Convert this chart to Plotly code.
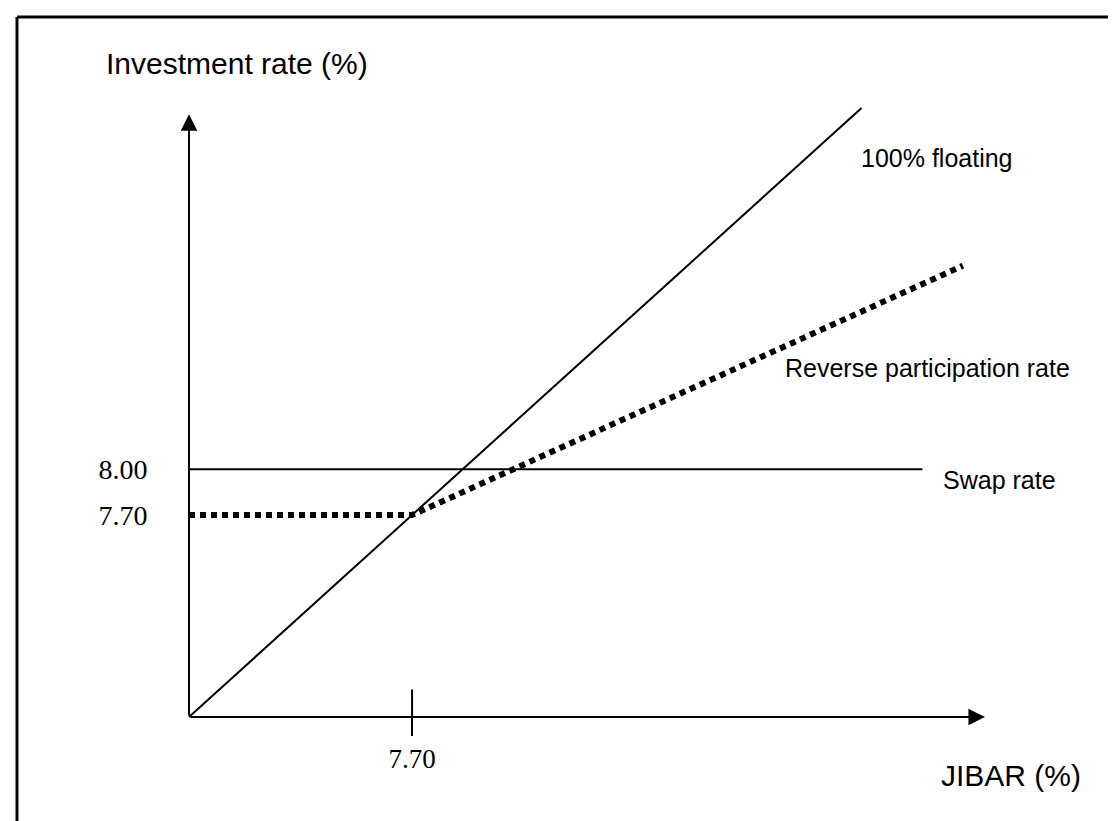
import plotly.graph_objects as go

# ---- data (conceptual payoff diagram) ----
origin = 6.38            # where the two axes meet
x_axis_end = 11.09       # JIBAR axis arrow tip
y_axis_end = 10.32       # Investment-rate axis arrow tip

floating_x = [6.38, 10.36]
floating_y = [6.38, 10.36]

swap_rate = 8.00
swap_x = [6.38, 10.72]
swap_y = [swap_rate, swap_rate]

floor_rate = 7.70
rp_x = [6.38, 7.70, 10.96]
rp_y = [7.70, 7.70, 9.33]

x_tick_vals = [7.70]
x_tick_text = ["7.70"]
y_tick_vals = [7.70, 8.00]
y_tick_text = ["7.70", "8.00"]

W, H = 1116, 821
BLACK = "#000000"
SANS = "Liberation Sans, Arial, Helvetica, sans-serif"
SERIF = "Liberation Serif, Times New Roman, serif"

fig = go.Figure()

fig.add_trace(go.Scatter(x=floating_x, y=floating_y, mode="lines",
                         line=dict(color=BLACK, width=2), hoverinfo="skip"))
fig.add_trace(go.Scatter(x=swap_x, y=swap_y, mode="lines",
                         line=dict(color=BLACK, width=2), hoverinfo="skip"))
fig.add_trace(go.Scatter(x=rp_x, y=rp_y, mode="lines",
                         line=dict(color=BLACK, width=6, dash="6px,5px"),
                         hoverinfo="skip"))

annotations = []
# axes drawn as arrows in data space
annotations.append(dict(x=x_axis_end, y=origin, ax=origin, ay=origin,
                        xref="x", yref="y", axref="x", ayref="y", text="",
                        showarrow=True, arrowhead=2, arrowwidth=2,
                        arrowsize=1.65, arrowcolor=BLACK))
annotations.append(dict(x=origin, y=y_axis_end, ax=origin, ay=origin,
                        xref="x", yref="y", axref="x", ayref="y", text="",
                        showarrow=True, arrowhead=2, arrowwidth=2,
                        arrowsize=1.65, arrowcolor=BLACK))


def label(text, px, py, size, anchor="left"):
    annotations.append(dict(x=px / W, y=1 - py / H, xref="paper", yref="paper",
                            text=text, showarrow=False, xanchor=anchor,
                            yanchor="middle",
                            font=dict(family=SANS, size=size, color=BLACK)))


label("Investment rate (%)", 96, 55, 30)
label("JIBAR (%)", 931, 767, 30)
label("100% floating", 851, 150, 25)
label("Reverse participation rate", 1064, 360, 25, anchor="right")
label("Swap rate", 933, 472, 25)

shapes = []
# tick part above the JIBAR axis at the kink
shapes.append(dict(type="line", xref="x", yref="y",
                   x0=x_tick_vals[0], x1=x_tick_vals[0],
                   y0=origin, y1=origin + 0.18,
                   line=dict(color=BLACK, width=2)))
# frame around the figure
shapes.append(dict(type="line", xref="paper", yref="paper",
                   x0=9 / W, x1=1.0, y0=1 - 9 / H, y1=1 - 9 / H,
                   line=dict(color=BLACK, width=3)))
shapes.append(dict(type="line", xref="paper", yref="paper",
                   x0=9 / W, x1=9 / W, y0=1 - 9 / H, y1=1 - 818 / H,
                   line=dict(color=BLACK, width=3)))
for a, b in [(0, 60), (85, 180), (205, 305), (330, 395)]:
    shapes.append(dict(type="line", xref="paper", yref="paper",
                       x0=a / W, x1=b / W, y0=1 - 818 / H, y1=1 - 818 / H,
                       line=dict(color="#9a9a9a", width=3)))

fig.update_layout(
    width=W, height=H, autosize=False,
    margin=dict(l=0, r=0, t=0, b=0, pad=0),
    paper_bgcolor="white", plot_bgcolor="white",
    showlegend=False,
    annotations=annotations, shapes=shapes,
    xaxis=dict(range=[5.309, 11.913], domain=[0, 1], anchor="free",
               position=1 - 708 / H, showline=False, showgrid=False,
               zeroline=False, tickvals=x_tick_vals, ticktext=x_tick_text,
               ticks="outside", ticklen=19, tickwidth=2, tickcolor=BLACK,
               tickfont=dict(family=SERIF, size=27, color=BLACK),
               automargin=False, fixedrange=True),
    yaxis=dict(range=[5.648, 11.014], domain=[0, 1], anchor="free",
               position=181 / W, showline=False, showgrid=False,
               zeroline=False, tickvals=y_tick_vals, ticktext=y_tick_text,
               ticks="outside", ticklen=36, tickcolor="rgba(0,0,0,0)",
               tickfont=dict(family=SERIF, size=28, color=BLACK),
               automargin=False, fixedrange=True),
)

fig.write_html("out.html", config={"displayModeBar": False})
